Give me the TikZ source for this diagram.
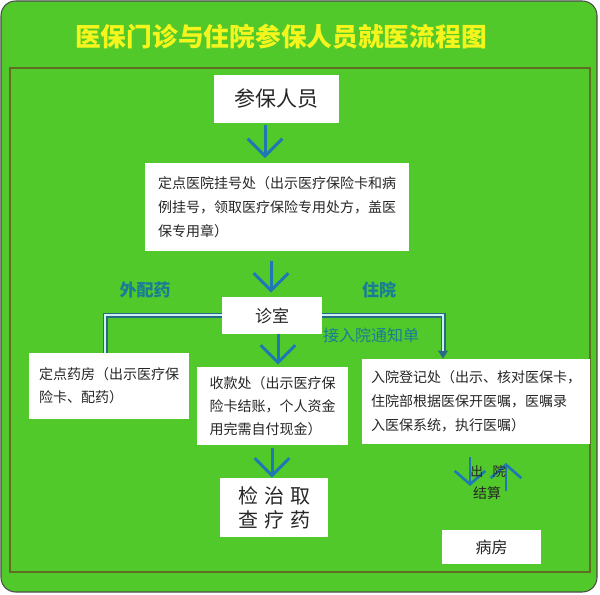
\documentclass[tikz,border=0pt]{standalone}
\usepackage{fontspec}
\setmainfont{Noto Sans CJK SC}
\usetikzlibrary{arrows.meta}
\definecolor{bggreen}{RGB}{82,201,42}
\definecolor{frameol}{RGB}{95,110,35}
\definecolor{arrblue}{RGB}{30,120,180}
\definecolor{lbl}{RGB}{25,125,150}
\definecolor{ttl}{RGB}{245,245,30}
\definecolor{dblo}{RGB}{40,105,135}
\definecolor{dbli}{RGB}{205,240,245}
\begin{document}
\begin{tikzpicture}[x=0.75pt,y=-0.75pt,
  box/.style={fill=white, inner sep=0pt, align=left, text=black!85},
  arr/.style={draw=arrblue, line width=2.25pt, -{Straight Barb[length=13pt,width=26pt,line width=2.25pt]}},
  arrsm/.style={draw=arrblue, line width=2pt, -{Straight Barb[length=10pt,width=23pt,line width=2pt]}},
  dblout/.style={draw=dblo, line width=3.75pt},
  dblin/.style={draw=dbli, line width=1.5pt},
  lab/.style={text=lbl, inner sep=0pt},
  smalltxt/.style={text=black!85, inner sep=0pt}
]
\fill[white] (0,0) rectangle (600,595);
\draw[fill=bggreen, draw=gray!60!black, line width=0.8pt, rounded corners=11pt] (1,1) rectangle (597,592);
\draw[frameol, line width=1.2pt] (10,68) rectangle (590,572);

\node[text=ttl, inner sep=0pt, font=\bfseries\fontsize{19.3pt}{24pt}\selectfont] (title) at (281,37) {医保门诊与住院参保人员就医流程图};

\node[box, minimum width=93.75pt, minimum height=36pt, font=\fontsize{15.75pt}{18pt}\selectfont] (p) at (276.5,99) {参保人员};
\node[box, minimum width=198pt, minimum height=66pt, font=\fontsize{10.5pt}{18pt}\selectfont] (reg) at (277,207)
  {定点医院挂号处（出示医疗保险卡和病\\例挂号，领取医疗保险专用处方，盖医\\保专用章）};
\node[box, minimum width=75pt, minimum height=27.75pt, font=\fontsize{12.75pt}{15pt}\selectfont] (zs) at (272,315.5) {诊室};
\node[box, minimum width=120pt, minimum height=49.5pt, font=\fontsize{10.5pt}{17.25pt}\selectfont] (yf) at (109,386)
  {定点药房（出示医疗保\\险卡、配药）};
\node[box, minimum width=113.25pt, minimum height=58.5pt, font=\fontsize{10.5pt}{17.25pt}\selectfont] (sk) at (272.5,406)
  {收款处（出示医疗保\\险卡结账，个人资金\\用完需自付现金）};
\node[box, minimum width=171pt, minimum height=63.75pt, font=\fontsize{10.5pt}{18pt}\selectfont] (ry) at (476,401.5)
  {入院登记处（出示、核对医保卡，\\住院部根据医保开医嘱，医嘱录\\入医保系统，执行医嘱）};
\node[box, minimum width=81pt, minimum height=44.25pt, font=\fontsize{15pt}{18pt}\selectfont] (jz) at (274,507.5)
  {检\hspace{4.5pt}治\hspace{4.5pt}取\\查\hspace{4.5pt}疗\hspace{4.5pt}药};
\node[box, minimum width=74.25pt, minimum height=25.5pt, font=\fontsize{12pt}{14pt}\selectfont] (bf) at (491.5,547) {病房};

\node[lab, font=\bfseries\fontsize{12.75pt}{15pt}\selectfont] (wpy) at (145,290) {外配药};
\node[lab, font=\bfseries\fontsize{12.75pt}{15pt}\selectfont] (zy) at (379,290) {住院};

\coordinate (a1) at (265,0);
\coordinate (a2) at (271,0);
\coordinate (a3) at (278,0);
\coordinate (a4) at (272,0);
\draw[arr, shorten <=1.5pt, shorten >=3.5pt] (p.south -| a1) -- (reg.north -| a1);
\draw[arr, shorten <=7.5pt, shorten >=3pt] (reg.south -| a2) -- (zs.north -| a2);
\draw[arr, shorten >=1.5pt] (zs.south -| a3) -- (sk.north -| a3);
\draw[arr, shorten <=2pt] (sk.south -| a4) -- (jz.north -| a4);

\coordinate (lx) at (105,0);
\coordinate (rx) at (443,0);
\draw[dblout] (zs.west) -| (yf.north -| lx);
\draw[dblin] (zs.west) -| (yf.north -| lx);
\draw[dblout, -{Triangle[length=6pt,width=7pt]}] (zs.east) -| (ry.north -| rx);
\draw[dblin, shorten >=6pt] (zs.east) -| (ry.north -| rx);

\node[lab, font=\fontsize{12pt}{14pt}\selectfont] (jr) at (371,335) {接入院通知单};

\coordinate (d1) at (470,457);
\coordinate (d2) at (470,486);
\coordinate (u1) at (506,491);
\coordinate (u2) at (506,463);
\draw[arrsm] (d1) -- (d2);
\draw[arrsm] (u1) -- (u2);
\node[smalltxt, font=\fontsize{9.75pt}{12pt}\selectfont] (cy) at (488,472) {出\hspace{7pt}院};
\node[smalltxt, font=\fontsize{10.5pt}{12pt}\selectfont] (js) at (487,493) {结算};
\end{tikzpicture}
\end{document}
